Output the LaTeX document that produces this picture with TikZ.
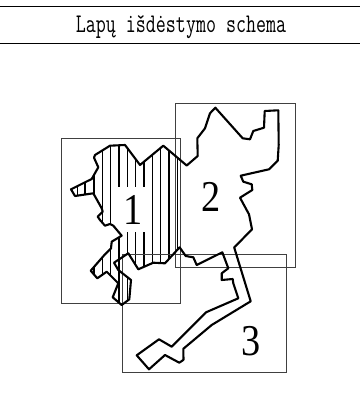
\documentclass[tikz,border=0pt]{standalone}
\usepackage{fontspec}
\newfontfamily\digitfont{Liberation Serif}
\setmonofont{Latin Modern Mono}
\newcommand{\mapoutline}{(71,189.3) -- (85,182.3) -- (91.7,179) -- (98.3,167.3) -- (94,157.7) -- (95,155) -- (110,145.7) -- (125,145) -- (140,165) -- (163.3,145.7) -- (186.7,165.5) -- (197.7,156) -- (197.3,138.3) -- (205,128.3) -- (210,113.3) -- (215.3,107.7) -- (242.7,138.3) -- (250,139.3) -- (253.3,131) -- (264,127.7) -- (264.7,111) -- (278.3,110.3) -- (278.7,145) -- (277.7,160.7) -- (269,169.3) -- (240.7,175.7) -- (243.3,181.7) -- (251.7,184.3) -- (252.3,190) -- (240,197.7) -- (249,214.3) -- (252,229.3) -- (234.2,247.5) -- (250.7,301.3) -- (211.7,325) -- (183.3,348.8) -- (183.5,359.8) -- (179.3,362.7) -- (165,355) -- (149,369.3) -- (136.7,355.3) -- (159,339.3) -- (171.7,346.7) -- (206,312.3) -- (238.3,298.3) -- (233.3,283.3) -- (232.7,279) -- (221.7,280) -- (221.7,273.3) -- (228.3,268.3) -- (222.3,252.3) -- (196.7,265) -- (193.3,257.3) -- (185.7,256) -- (179.6,247.3) -- (165,263.3) -- (153.3,262.7) -- (138.3,269.3) -- (128.3,253.3) -- (114,262.7) -- (118.3,270) -- (131,280) -- (129.3,299.3) -- (121.7,305) -- (112.7,297.3) -- (118.3,283.3) -- (106.7,271.7) -- (97.3,278.3) -- (90.7,270.7) -- (105,254.3) -- (111,248.3) -- (111.7,241.7) -- (121.7,235.7) -- (113.3,225.7) -- (110,224) -- (105,225.7) -- (100,220) -- (97.7,216.7) -- (102.7,211.7) -- (101.7,208.3) -- (93.3,193.3) -- (75,196) -- cycle}
\tikzset{
  sheet/.style={draw=black!75,line width=0.9pt},
  rulebar/.style={draw=black,line width=1.2pt},
  hatchline/.style={draw=black,line width=1.1pt},
  outline/.style={draw=black,line width=2.1pt,line join=round},
  sheetnum/.style={font=\digitfont\fontsize{44}{44}\selectfont,inner sep=0pt,xscale=0.87},
  titletext/.style={font=\fontsize{27}{27}\selectfont\ttfamily,inner sep=0pt,xscale=0.72}
}
\begin{document}
\begin{tikzpicture}[x=1pt,y=-1pt]
\useasboundingbox (0,0) rectangle (360,414);
\coordinate (barAL) at (0,6.3); \coordinate (barAR) at (360,6.3);
\coordinate (barBL) at (0,43.7); \coordinate (barBR) at (360,43.7);
\draw[rulebar] (barAL) -- (barAR);
\draw[rulebar] (barBL) -- (barBR);
\node[titletext] (title) at (181,26.5) {Lapų išdėstymo schema};
\begin{scope}
\clip \mapoutline;
\clip (0,0) rectangle (180,414);
\foreach \hx in {77.7,85,94,102.3,110.7,119,127.3,135.7,144,152.3,160.7,169,177.3}
  \draw[hatchline] (\hx,100) -- (\hx,320);
\end{scope}
\coordinate (bayTop) at (119,258); \coordinate (bayBottom) at (119,272);
\draw[hatchline] (bayTop) -- (bayBottom);
\fill[white] (115,187) rectangle (149,231.5);
\draw[sheet] (61.3,138.3) rectangle (180.7,303.3);
\draw[sheet] (175.7,103.3) rectangle (295,267.7);
\draw[sheet] (122,254) rectangle (286.7,372.7);
\draw[outline] \mapoutline;
\node[sheetnum] (n1) at (132.7,210) {1};
\node[sheetnum] (n2) at (210.7,197.3) {2};
\node[sheetnum] (n3) at (250.7,341) {3};
\end{tikzpicture}
\end{document}
